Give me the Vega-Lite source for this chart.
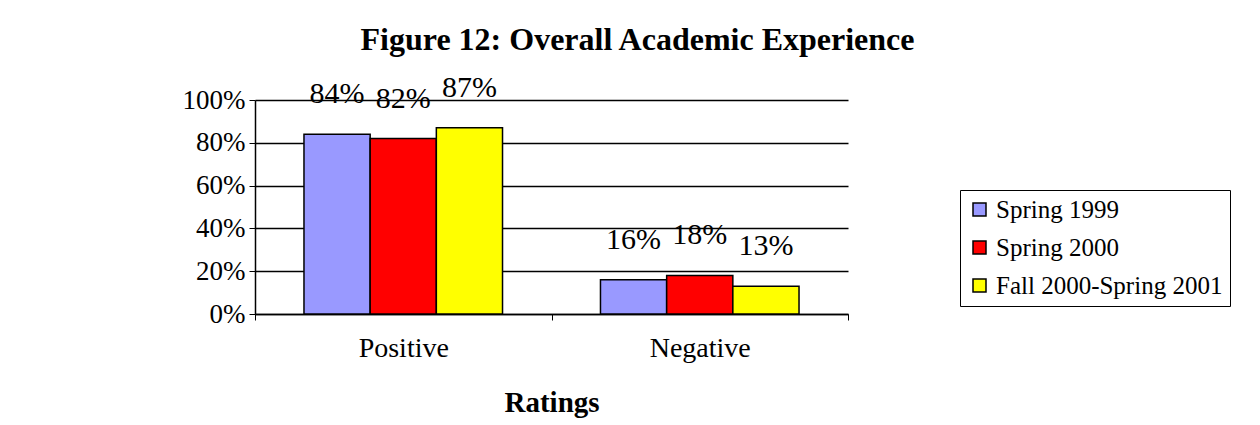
{
  "$schema": "https://vega.github.io/schema/vega-lite/v6.json",
  "autosize": "none",
  "width": 593,
  "height": 214,
  "padding": {"left": 255, "top": 100, "right": 412, "bottom": 111},
  "background": "white",
  "config": {
    "font": "Liberation Serif",
    "view": {"stroke": null},
    "axis": {"labelFont": "Liberation Serif", "titleFont": "Liberation Serif", "labelColor": "black", "titleColor": "black", "domainColor": "black", "tickColor": "black"},
    "legend": {"strokeColor": "black"}
  },
  "title": {
    "text": "Figure 12:  Overall Academic Experience",
    "font": "Liberation Serif",
    "fontSize": 32,
    "fontWeight": "bold",
    "color": "black",
    "anchor": "middle",
    "dx": 86,
    "offset": 16
  },
  "data": {
    "values": [
      {"rating": "Positive", "period": "Spring 1999", "value": 0.84},
      {"rating": "Positive", "period": "Spring 2000", "value": 0.82},
      {"rating": "Positive", "period": "Fall 2000-Spring 2001", "value": 0.87},
      {"rating": "Negative", "period": "Spring 1999", "value": 0.16},
      {"rating": "Negative", "period": "Spring 2000", "value": 0.18},
      {"rating": "Negative", "period": "Fall 2000-Spring 2001", "value": 0.13}
    ]
  },
  "encoding": {
    "x": {
      "field": "rating",
      "type": "nominal",
      "sort": ["Positive", "Negative"],
      "scale": {"paddingInner": 0, "paddingOuter": 0},
      "axis": {
        "title": "Ratings",
        "titleFontSize": 29,
        "titleFontWeight": "bold",
        "titlePadding": 26,
        "labelFontSize": 28,
        "labelAngle": 0,
        "labelPadding": 14,
        "tickBand": "extent",
        "tickSize": 6,
        "domainWidth": 1.5
      }
    },
    "xOffset": {
      "field": "period",
      "type": "nominal",
      "sort": ["Spring 1999", "Spring 2000", "Fall 2000-Spring 2001"],
      "scale": {"paddingInner": 0, "paddingOuter": 0.74}
    },
    "y": {
      "field": "value",
      "type": "quantitative",
      "scale": {"domain": [0, 1]},
      "axis": {
        "title": null,
        "format": ".0%",
        "values": [0, 0.2, 0.4, 0.6, 0.8, 1],
        "labelFontSize": 27,
        "labelPadding": 4,
        "tickSize": 6,
        "grid": true,
        "gridColor": "black",
        "gridWidth": 1.5,
        "domainWidth": 1.5
      }
    }
  },
  "layer": [
    {
      "mark": {"type": "bar", "stroke": "black", "strokeWidth": 1.5},
      "encoding": {
        "color": {
          "field": "period",
          "type": "nominal",
          "sort": ["Spring 1999", "Spring 2000", "Fall 2000-Spring 2001"],
          "scale": {
            "domain": ["Spring 1999", "Spring 2000", "Fall 2000-Spring 2001"],
            "range": ["#9999FF", "#FF0000", "#FFFF00"]
          },
          "legend": {
            "title": null,
            "orient": "none",
            "legendX": 705,
            "legendY": 90,
            "strokeColor": "black",
            "padding": 7,
            "symbolType": "square",
            "symbolSize": 169,
            "symbolStrokeColor": "black",
            "symbolStrokeWidth": 1.5,
            "labelFont": "Liberation Serif",
            "labelFontSize": 25,
            "labelColor": "black",
            "labelLimit": 400,
            "rowPadding": 12,
            "fillColor": "white"
          }
        }
      }
    },
    {
      "mark": {"type": "text", "dy": -40, "fontSize": 30, "font": "Liberation Serif", "color": "black"},
      "encoding": {
        "text": {"field": "value", "type": "quantitative", "format": ".0%"}
      }
    }
  ]
}
